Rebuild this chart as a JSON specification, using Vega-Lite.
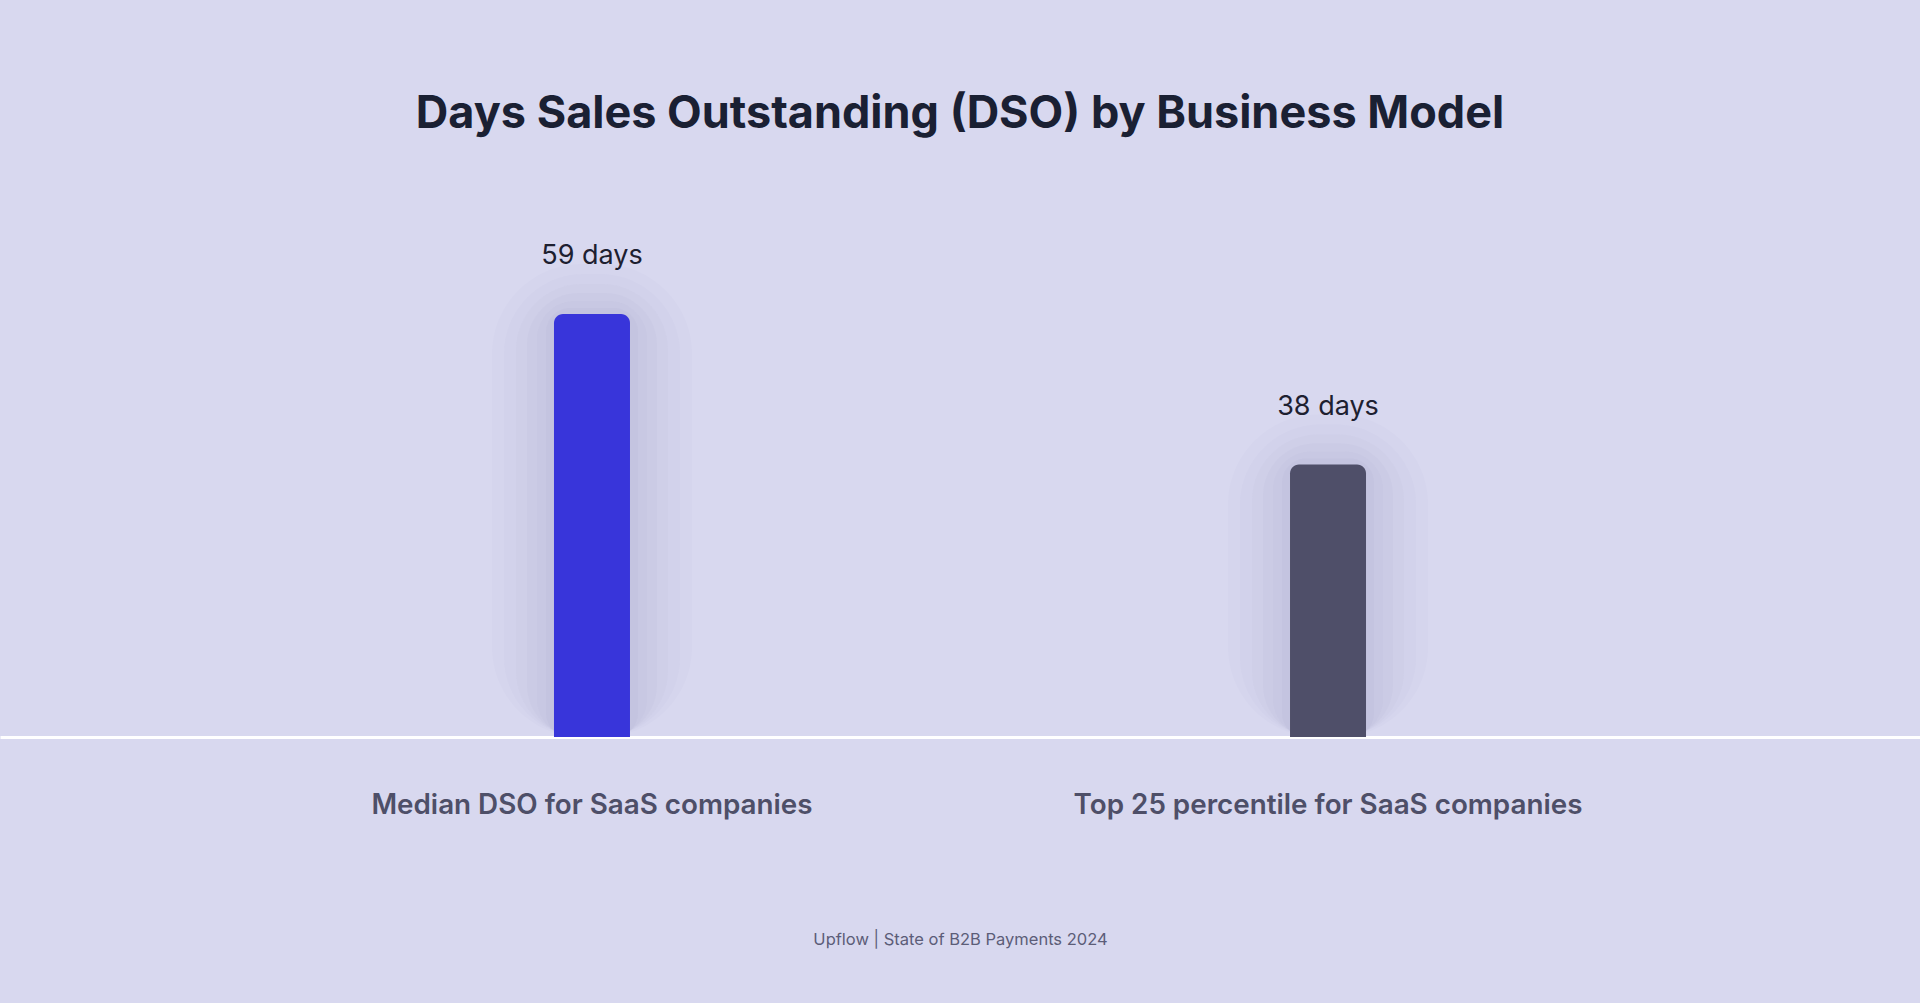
{
  "$schema": "https://vega.github.io/schema/vega-lite/v6.json",
  "width": 1920,
  "height": 567,
  "autosize": {"type": "none"},
  "padding": {"left": 0, "right": 0, "top": 170, "bottom": 266},
  "background": "#d8d8ef",
  "view": {"stroke": null},
  "title": {
    "text": "Days Sales Outstanding (DSO) by Business Model",
    "font": "Inter",
    "fontSize": 45,
    "fontWeight": 700,
    "color": "#1a2033",
    "anchor": "middle",
    "frame": "group",
    "baseline": "alphabetic",
    "offset": -3
  },
  "data": {
    "values": [
      {"category": "Median DSO for SaaS companies", "days": 59, "label": "59 days"},
      {"category": "Top 25 percentile for SaaS companies", "days": 38, "label": "38 days"}
    ]
  },
  "encoding": {
    "x": {
      "field": "category",
      "type": "nominal",
      "sort": null,
      "scale": {"paddingInner": 0, "paddingOuter": 0.3043},
      "axis": {
        "title": "Upflow | State of B2B Payments 2024",
        "titleFont": "Inter",
        "titleFontSize": 16.5,
        "titleFontWeight": 400,
        "titleColor": "#5c5d78",
        "titleX": 960,
        "titleY": 207,
        "titleAlign": "center",
        "titleBaseline": "alphabetic",
        "labelAngle": 0,
        "labelFont": "Inter",
        "labelFontSize": 27.8,
        "labelFontWeight": 600,
        "labelColor": "#4e4f68",
        "labelPadding": 54,
        "labelLimit": 1000,
        "ticks": false,
        "domain": true,
        "domainColor": "#ffffff",
        "domainWidth": 3,
        "grid": false
      }
    },
    "y": {
      "field": "days",
      "type": "quantitative",
      "stack": null,
      "scale": {"domain": [0, 79.1]},
      "axis": null
    }
  },
  "layer": [
    {
      "mark": {"type": "bar", "size": 200, "cornerRadius": 90, "color": "#8585b5", "opacity": 0.025, "yOffset": -50, "y2Offset": 50}
    },
    {
      "mark": {"type": "bar", "size": 176, "cornerRadius": 80, "color": "#8585b5", "opacity": 0.03, "yOffset": -40, "y2Offset": 40}
    },
    {
      "mark": {"type": "bar", "size": 152, "cornerRadius": 66, "color": "#8585b5", "opacity": 0.035, "yOffset": -30, "y2Offset": 30}
    },
    {
      "mark": {"type": "bar", "size": 130, "cornerRadius": 52, "color": "#8585b5", "opacity": 0.04, "yOffset": -21, "y2Offset": 21}
    },
    {
      "mark": {"type": "bar", "size": 110, "cornerRadius": 38, "color": "#8585b5", "opacity": 0.045, "yOffset": -13, "y2Offset": 13}
    },
    {
      "mark": {"type": "bar", "size": 92, "cornerRadius": 24, "color": "#8585b5", "opacity": 0.05, "yOffset": -6, "y2Offset": 6}
    },
    {
      "mark": {"type": "bar", "size": 76, "cornerRadiusTopLeft": 9, "cornerRadiusTopRight": 9},
      "encoding": {
        "color": {
          "field": "category",
          "type": "nominal",
          "scale": {"range": ["#3835da", "#4f4f69"]},
          "legend": null
        }
      }
    },
    {
      "mark": {"type": "text", "font": "Inter", "fontSize": 27, "fontWeight": 400, "color": "#1d2030", "baseline": "alphabetic", "dy": -50},
      "encoding": {"text": {"field": "label"}}
    }
  ]
}
